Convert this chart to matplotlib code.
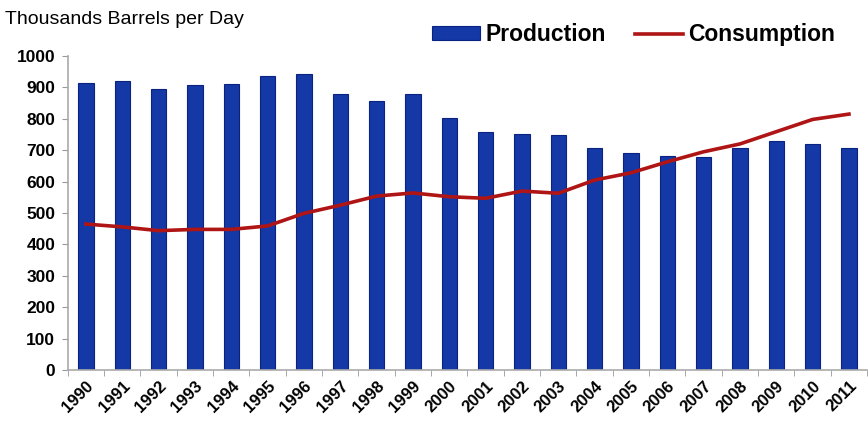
import matplotlib
matplotlib.use("Agg")
import matplotlib.pyplot as plt
import numpy as np

plt.rcParams['font.family'] = ['Liberation Sans', 'DejaVu Sans']

years = [str(y) for y in range(1990, 2012)]
production = [913, 920, 894, 908, 911, 936, 943, 878, 858, 878, 801, 759,
              752, 748, 708, 690, 683, 680, 708, 729, 720, 708]
consumption = [465, 456, 444, 448, 448, 459, 499, 525, 554, 564, 552, 547,
               570, 563, 605, 628, 663, 695, 720, 759, 798, 815]

fig = plt.figure(figsize=(8.68, 4.24), dpi=100)
ax = fig.add_axes([0.078, 0.127, 0.921, 0.741])

x = np.arange(len(years))
bars = ax.bar(x, production, width=0.42, color='#1438a6', edgecolor='#0a2380',
              linewidth=0.8, label='Production')
line, = ax.plot(x, consumption, color='#b01515', linewidth=2.6,
                label='Consumption')

ax.set_xlim(-0.5, len(years) - 0.5)
ax.set_ylim(0, 1000)
ax.set_yticks(np.arange(0, 1001, 100))
ax.set_yticklabels([str(v) for v in range(0, 1001, 100)], fontsize=12.5,
                   fontweight='bold')
ax.set_xticks(x)
ax.set_xticklabels(years, rotation=45, ha='right', rotation_mode='anchor',
                   fontsize=12, fontweight='bold')
ax.tick_params(axis='x', length=0, pad=6)
ax.set_xticks(np.arange(-0.5, len(years), 1), minor=True)
ax.tick_params(axis='x', which='minor', length=4, color='#999999')
ax.tick_params(axis='y', length=4, color='#999999', pad=5)

for s in ['top', 'right']:
    ax.spines[s].set_visible(False)
for s in ['left', 'bottom']:
    ax.spines[s].set_color('#aaaaaa')
    ax.spines[s].set_linewidth(1.2)

fig.text(0.006, 0.955, 'Thousands Barrels per Day', fontsize=14,
         ha='left', va='center')

leg = ax.legend([bars, line], ['Production', 'Consumption'],
                loc='center right', bbox_to_anchor=(0.971, 1.067), ncol=2,
                frameon=False, prop={'size': 16.5, 'weight': 'bold'},
                handlelength=2.1, handleheight=0.55, columnspacing=1.3,
                handletextpad=0.2, borderaxespad=0)

fig.savefig('out.png', dpi=100)
